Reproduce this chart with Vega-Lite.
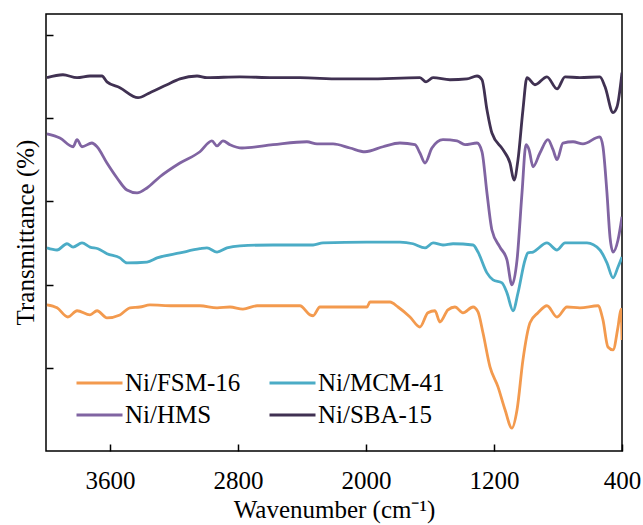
{
  "$schema": "https://vega.github.io/schema/vega-lite/v6.json",
  "width": 576,
  "height": 437,
  "autosize": "none",
  "padding": {"left": 46, "top": 14, "right": 21, "bottom": 74},
  "config": {
    "font": "Liberation Serif, serif",
    "view": {"stroke": "black", "strokeWidth": 1.5},
    "axis": {"grid": false, "domain": false, "tickColor": "black", "tickWidth": 1.5, "labelColor": "black", "titleColor": "black", "titleFontWeight": "normal"}
  },
  "data": {"values": [
    {"s":"Ni/SBA-15","w":3994,"t":89.7},{"s":"Ni/SBA-15","w":3894,"t":90.4},{"s":"Ni/SBA-15","w":3806,"t":89.7},{"s":"Ni/SBA-15","w":3725,"t":90.1},{"s":"Ni/SBA-15","w":3650,"t":90.1},{"s":"Ni/SBA-15","w":3619,"t":88.7},{"s":"Ni/SBA-15","w":3538,"t":87.3},{"s":"Ni/SBA-15","w":3425,"t":84.9},{"s":"Ni/SBA-15","w":3350,"t":86.1},{"s":"Ni/SBA-15","w":3244,"t":88.0},{"s":"Ni/SBA-15","w":3163,"t":89.4},{"s":"Ni/SBA-15","w":3056,"t":90.1},{"s":"Ni/SBA-15","w":2994,"t":89.7},{"s":"Ni/SBA-15","w":2788,"t":89.9},{"s":"Ni/SBA-15","w":2581,"t":89.7},{"s":"Ni/SBA-15","w":2413,"t":89.7},{"s":"Ni/SBA-15","w":2163,"t":89.4},{"s":"Ni/SBA-15","w":1994,"t":89.4},{"s":"Ni/SBA-15","w":1663,"t":89.7},{"s":"Ni/SBA-15","w":1625,"t":88.7},{"s":"Ni/SBA-15","w":1581,"t":89.7},{"s":"Ni/SBA-15","w":1475,"t":89.2},{"s":"Ni/SBA-15","w":1369,"t":89.4},{"s":"Ni/SBA-15","w":1306,"t":90.1},{"s":"Ni/SBA-15","w":1275,"t":89.2},{"s":"Ni/SBA-15","w":1244,"t":82.0},{"s":"Ni/SBA-15","w":1213,"t":76.4},{"s":"Ni/SBA-15","w":1144,"t":72.4},{"s":"Ni/SBA-15","w":1100,"t":69.2},{"s":"Ni/SBA-15","w":1075,"t":65.1},{"s":"Ni/SBA-15","w":1050,"t":70.0},{"s":"Ni/SBA-15","w":1019,"t":82.0},{"s":"Ni/SBA-15","w":994,"t":89.7},{"s":"Ni/SBA-15","w":944,"t":88.0},{"s":"Ni/SBA-15","w":869,"t":89.9},{"s":"Ni/SBA-15","w":806,"t":87.0},{"s":"Ni/SBA-15","w":756,"t":89.9},{"s":"Ni/SBA-15","w":663,"t":89.7},{"s":"Ni/SBA-15","w":538,"t":89.9},{"s":"Ni/SBA-15","w":506,"t":87.5},{"s":"Ni/SBA-15","w":456,"t":81.3},{"s":"Ni/SBA-15","w":431,"t":82.7},{"s":"Ni/SBA-15","w":400,"t":90.9},
    {"s":"Ni/HMS","w":3994,"t":76.2},{"s":"Ni/HMS","w":3913,"t":75.2},{"s":"Ni/HMS","w":3831,"t":73.1},{"s":"Ni/HMS","w":3806,"t":74.8},{"s":"Ni/HMS","w":3775,"t":73.1},{"s":"Ni/HMS","w":3713,"t":74.0},{"s":"Ni/HMS","w":3681,"t":73.1},{"s":"Ni/HMS","w":3619,"t":69.2},{"s":"Ni/HMS","w":3556,"t":65.6},{"s":"Ni/HMS","w":3494,"t":62.7},{"s":"Ni/HMS","w":3431,"t":62.0},{"s":"Ni/HMS","w":3369,"t":63.2},{"s":"Ni/HMS","w":3288,"t":65.9},{"s":"Ni/HMS","w":3163,"t":69.2},{"s":"Ni/HMS","w":3038,"t":71.9},{"s":"Ni/HMS","w":2963,"t":74.5},{"s":"Ni/HMS","w":2931,"t":73.3},{"s":"Ni/HMS","w":2894,"t":74.5},{"s":"Ni/HMS","w":2850,"t":73.6},{"s":"Ni/HMS","w":2775,"t":72.8},{"s":"Ni/HMS","w":2581,"t":73.6},{"s":"Ni/HMS","w":2369,"t":74.3},{"s":"Ni/HMS","w":2306,"t":73.8},{"s":"Ni/HMS","w":2206,"t":73.8},{"s":"Ni/HMS","w":2100,"t":72.8},{"s":"Ni/HMS","w":2006,"t":71.9},{"s":"Ni/HMS","w":1894,"t":73.1},{"s":"Ni/HMS","w":1788,"t":74.0},{"s":"Ni/HMS","w":1694,"t":73.6},{"s":"Ni/HMS","w":1663,"t":71.6},{"s":"Ni/HMS","w":1631,"t":69.2},{"s":"Ni/HMS","w":1588,"t":72.8},{"s":"Ni/HMS","w":1519,"t":74.8},{"s":"Ni/HMS","w":1431,"t":74.5},{"s":"Ni/HMS","w":1381,"t":73.6},{"s":"Ni/HMS","w":1306,"t":74.0},{"s":"Ni/HMS","w":1275,"t":71.9},{"s":"Ni/HMS","w":1244,"t":62.0},{"s":"Ni/HMS","w":1213,"t":53.1},{"s":"Ni/HMS","w":1163,"t":49.0},{"s":"Ni/HMS","w":1119,"t":45.9},{"s":"Ni/HMS","w":1088,"t":39.9},{"s":"Ni/HMS","w":1056,"t":45.9},{"s":"Ni/HMS","w":1025,"t":62.0},{"s":"Ni/HMS","w":1000,"t":73.6},{"s":"Ni/HMS","w":981,"t":72.4},{"s":"Ni/HMS","w":956,"t":68.3},{"s":"Ni/HMS","w":913,"t":71.6},{"s":"Ni/HMS","w":863,"t":74.8},{"s":"Ni/HMS","w":831,"t":72.4},{"s":"Ni/HMS","w":806,"t":70.0},{"s":"Ni/HMS","w":769,"t":74.0},{"s":"Ni/HMS","w":706,"t":74.3},{"s":"Ni/HMS","w":644,"t":73.8},{"s":"Ni/HMS","w":538,"t":75.5},{"s":"Ni/HMS","w":519,"t":73.1},{"s":"Ni/HMS","w":494,"t":62.0},{"s":"Ni/HMS","w":475,"t":51.4},{"s":"Ni/HMS","w":456,"t":47.8},{"s":"Ni/HMS","w":425,"t":50.7},{"s":"Ni/HMS","w":400,"t":56.3},
    {"s":"Ni/MCM-41","w":3994,"t":48.8},{"s":"Ni/MCM-41","w":3931,"t":48.3},{"s":"Ni/MCM-41","w":3869,"t":49.8},{"s":"Ni/MCM-41","w":3831,"t":49.0},{"s":"Ni/MCM-41","w":3775,"t":50.0},{"s":"Ni/MCM-41","w":3725,"t":49.0},{"s":"Ni/MCM-41","w":3675,"t":48.6},{"s":"Ni/MCM-41","w":3619,"t":47.4},{"s":"Ni/MCM-41","w":3538,"t":46.4},{"s":"Ni/MCM-41","w":3494,"t":45.2},{"s":"Ni/MCM-41","w":3369,"t":45.4},{"s":"Ni/MCM-41","w":3306,"t":46.4},{"s":"Ni/MCM-41","w":3163,"t":47.6},{"s":"Ni/MCM-41","w":3038,"t":48.6},{"s":"Ni/MCM-41","w":2994,"t":48.8},{"s":"Ni/MCM-41","w":2931,"t":47.8},{"s":"Ni/MCM-41","w":2869,"t":48.8},{"s":"Ni/MCM-41","w":2788,"t":49.3},{"s":"Ni/MCM-41","w":2581,"t":49.5},{"s":"Ni/MCM-41","w":2331,"t":49.5},{"s":"Ni/MCM-41","w":2269,"t":50.0},{"s":"Ni/MCM-41","w":1994,"t":50.2},{"s":"Ni/MCM-41","w":1788,"t":50.2},{"s":"Ni/MCM-41","w":1706,"t":49.8},{"s":"Ni/MCM-41","w":1631,"t":48.8},{"s":"Ni/MCM-41","w":1581,"t":50.0},{"s":"Ni/MCM-41","w":1519,"t":49.5},{"s":"Ni/MCM-41","w":1456,"t":49.8},{"s":"Ni/MCM-41","w":1331,"t":49.5},{"s":"Ni/MCM-41","w":1300,"t":47.8},{"s":"Ni/MCM-41","w":1244,"t":42.8},{"s":"Ni/MCM-41","w":1206,"t":41.1},{"s":"Ni/MCM-41","w":1150,"t":40.4},{"s":"Ni/MCM-41","w":1119,"t":38.0},{"s":"Ni/MCM-41","w":1081,"t":33.7},{"s":"Ni/MCM-41","w":1050,"t":38.0},{"s":"Ni/MCM-41","w":1006,"t":45.9},{"s":"Ni/MCM-41","w":988,"t":47.6},{"s":"Ni/MCM-41","w":956,"t":47.8},{"s":"Ni/MCM-41","w":869,"t":50.0},{"s":"Ni/MCM-41","w":806,"t":48.3},{"s":"Ni/MCM-41","w":756,"t":50.0},{"s":"Ni/MCM-41","w":619,"t":50.0},{"s":"Ni/MCM-41","w":538,"t":48.3},{"s":"Ni/MCM-41","w":494,"t":45.2},{"s":"Ni/MCM-41","w":456,"t":41.6},{"s":"Ni/MCM-41","w":425,"t":44.2},{"s":"Ni/MCM-41","w":400,"t":46.6},
    {"s":"Ni/FSM-16","w":3994,"t":35.1},{"s":"Ni/FSM-16","w":3931,"t":34.4},{"s":"Ni/FSM-16","w":3863,"t":32.2},{"s":"Ni/FSM-16","w":3806,"t":33.7},{"s":"Ni/FSM-16","w":3725,"t":32.7},{"s":"Ni/FSM-16","w":3681,"t":33.7},{"s":"Ni/FSM-16","w":3619,"t":32.0},{"s":"Ni/FSM-16","w":3538,"t":32.7},{"s":"Ni/FSM-16","w":3475,"t":34.4},{"s":"Ni/FSM-16","w":3413,"t":34.6},{"s":"Ni/FSM-16","w":3350,"t":35.1},{"s":"Ni/FSM-16","w":3206,"t":34.9},{"s":"Ni/FSM-16","w":3038,"t":34.9},{"s":"Ni/FSM-16","w":2931,"t":34.4},{"s":"Ni/FSM-16","w":2850,"t":34.6},{"s":"Ni/FSM-16","w":2769,"t":34.1},{"s":"Ni/FSM-16","w":2681,"t":34.9},{"s":"Ni/FSM-16","w":2413,"t":34.9},{"s":"Ni/FSM-16","w":2350,"t":32.7},{"s":"Ni/FSM-16","w":2331,"t":32.5},{"s":"Ni/FSM-16","w":2288,"t":34.6},{"s":"Ni/FSM-16","w":1994,"t":34.6},{"s":"Ni/FSM-16","w":1975,"t":35.8},{"s":"Ni/FSM-16","w":1850,"t":35.8},{"s":"Ni/FSM-16","w":1800,"t":34.6},{"s":"Ni/FSM-16","w":1725,"t":32.2},{"s":"Ni/FSM-16","w":1663,"t":29.8},{"s":"Ni/FSM-16","w":1613,"t":33.2},{"s":"Ni/FSM-16","w":1569,"t":33.7},{"s":"Ni/FSM-16","w":1538,"t":31.0},{"s":"Ni/FSM-16","w":1488,"t":33.9},{"s":"Ni/FSM-16","w":1444,"t":34.6},{"s":"Ni/FSM-16","w":1394,"t":33.2},{"s":"Ni/FSM-16","w":1331,"t":34.6},{"s":"Ni/FSM-16","w":1300,"t":33.4},{"s":"Ni/FSM-16","w":1269,"t":28.4},{"s":"Ni/FSM-16","w":1225,"t":20.2},{"s":"Ni/FSM-16","w":1175,"t":15.4},{"s":"Ni/FSM-16","w":1131,"t":9.9},{"s":"Ni/FSM-16","w":1088,"t":5.5},{"s":"Ni/FSM-16","w":1056,"t":9.9},{"s":"Ni/FSM-16","w":1019,"t":21.9},{"s":"Ni/FSM-16","w":975,"t":30.8},{"s":"Ni/FSM-16","w":925,"t":33.2},{"s":"Ni/FSM-16","w":869,"t":34.9},{"s":"Ni/FSM-16","w":806,"t":32.2},{"s":"Ni/FSM-16","w":744,"t":34.6},{"s":"Ni/FSM-16","w":663,"t":34.4},{"s":"Ni/FSM-16","w":550,"t":34.9},{"s":"Ni/FSM-16","w":519,"t":31.5},{"s":"Ni/FSM-16","w":488,"t":25.0},{"s":"Ni/FSM-16","w":456,"t":24.3},{"s":"Ni/FSM-16","w":425,"t":29.8},{"s":"Ni/FSM-16","w":406,"t":34.1},{"s":"Ni/FSM-16","w":400,"t":26.7}
  ]},
  "mark": {"type": "line", "strokeWidth": 2.8, "clip": true, "interpolate": "monotone"},
  "encoding": {
    "x": {"field": "w", "type": "quantitative",
      "scale": {"domain": [400, 4000], "reverse": true, "nice": false, "zero": false},
      "axis": {"values": [3600, 2800, 2000, 1200, 400], "format": "d", "tickSize": -7, "labelPadding": 24, "labelFont": "Liberation Serif, serif", "labelFontSize": 25, "labelFlush": false,
        "title": "Wavenumber (cm⁻¹)", "titleFont": "Liberation Serif, serif", "titleFontSize": 25, "titleX": 288, "titleY": 66, "titleBaseline": "alphabetic", "titleAnchor": "middle", "titleAlign": "center"}},
    "y": {"field": "t", "type": "quantitative",
      "scale": {"domain": [0, 105], "nice": false, "zero": false},
      "axis": {"values": [20, 40, 60, 80, 100], "labels": false, "tickSize": -7, "titleFont": "Liberation Serif, serif",
        "title": "Transmittance (%)", "titleFontSize": 25, "titleX": -13, "titleY": 218, "titleBaseline": "alphabetic", "titleAngle": -90, "titleAlign": "center"}},
    "color": {"field": "s", "type": "nominal",
      "scale": {"domain": ["Ni/FSM-16", "Ni/HMS", "Ni/MCM-41", "Ni/SBA-15"], "range": ["#F39A4E", "#8064A2", "#4BACC6", "#403152"]},
      "legend": {"title": null, "orient": "none", "legendX": 29, "legendY": 353, "columns": 2, "symbolType": "stroke", "symbolSize": 2116, "symbolStrokeWidth": 3, "clipHeight": 32,
        "labelFont": "Liberation Serif, serif", "labelFontSize": 25, "labelColor": "black", "labelOffset": 1, "labelLimit": 300, "columnPadding": 27, "rowPadding": 0, "padding": 0}}
  }
}
